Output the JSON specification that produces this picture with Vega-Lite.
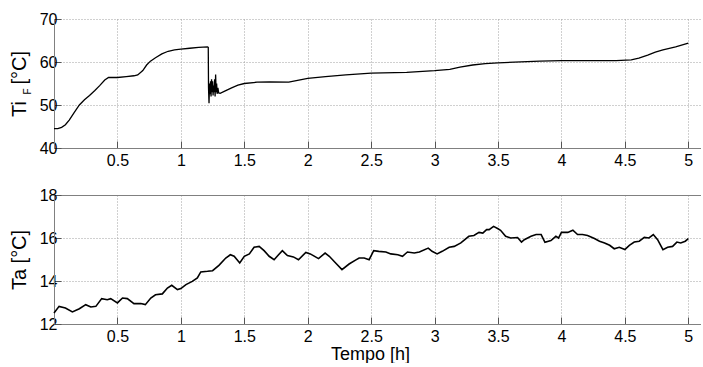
{
  "$schema": "https://vega.github.io/schema/vega-lite/v6.json",
  "padding": {"left": 9, "top": 11, "right": 0, "bottom": 0},
  "autosize": {"type": "pad"},
  "background": "white",
  "spacing": 19,
  "config": {
    "view": {"stroke": null},
    "axis": {
      "labelFont": "Liberation Sans",
      "labelFontSize": 16,
      "labelColor": "#000000",
      "titleFont": "Liberation Sans",
      "titleFontSize": 20,
      "titleFontWeight": "normal",
      "titleColor": "#000000",
      "domainColor": "#808080",
      "tickColor": "#555555",
      "tickSize": -7,
      "tickWidth": 1,
      "labelPadding": 4,
      "format": "~r",
      "gridColor": "#a0a0a0",
      "gridDash": [1, 2],
      "gridWidth": 1
    },
    "axisX": {"labelPadding": 11},
    "axisY": {"titlePadding": 10}
  },
  "datasets": {
    "tif": [
      {"t": 0.00, "v": 44.5}, {"t": 0.03, "v": 44.5}, {"t": 0.06, "v": 44.8},
      {"t": 0.09, "v": 45.4}, {"t": 0.12, "v": 46.5}, {"t": 0.16, "v": 48.3},
      {"t": 0.20, "v": 50.0}, {"t": 0.24, "v": 51.2}, {"t": 0.28, "v": 52.2},
      {"t": 0.32, "v": 53.3}, {"t": 0.36, "v": 54.5}, {"t": 0.40, "v": 55.8},
      {"t": 0.43, "v": 56.4}, {"t": 0.50, "v": 56.4}, {"t": 0.57, "v": 56.6},
      {"t": 0.63, "v": 56.8}, {"t": 0.66, "v": 57.0}, {"t": 0.70, "v": 58.0},
      {"t": 0.73, "v": 59.3}, {"t": 0.76, "v": 60.2}, {"t": 0.80, "v": 61.0},
      {"t": 0.85, "v": 61.9}, {"t": 0.90, "v": 62.5}, {"t": 0.95, "v": 62.8},
      {"t": 1.00, "v": 63.0}, {"t": 1.07, "v": 63.2}, {"t": 1.14, "v": 63.4},
      {"t": 1.21, "v": 63.5}, {"t": 1.216, "v": 63.4}, {"t": 1.218, "v": 54.0},
      {"t": 1.222, "v": 50.4}, {"t": 1.226, "v": 55.0}, {"t": 1.230, "v": 52.5},
      {"t": 1.234, "v": 55.5}, {"t": 1.238, "v": 52.0}, {"t": 1.242, "v": 56.0},
      {"t": 1.246, "v": 53.0}, {"t": 1.250, "v": 55.5}, {"t": 1.254, "v": 52.2},
      {"t": 1.258, "v": 54.5}, {"t": 1.262, "v": 53.0}, {"t": 1.266, "v": 56.0},
      {"t": 1.270, "v": 52.0}, {"t": 1.274, "v": 57.1}, {"t": 1.278, "v": 53.0},
      {"t": 1.282, "v": 55.0}, {"t": 1.286, "v": 52.6}, {"t": 1.292, "v": 54.0},
      {"t": 1.298, "v": 52.8}, {"t": 1.31, "v": 52.7}, {"t": 1.35, "v": 53.3},
      {"t": 1.40, "v": 54.0}, {"t": 1.45, "v": 54.6}, {"t": 1.50, "v": 55.0},
      {"t": 1.60, "v": 55.3}, {"t": 1.70, "v": 55.4}, {"t": 1.85, "v": 55.3},
      {"t": 1.93, "v": 55.8}, {"t": 2.00, "v": 56.2}, {"t": 2.14, "v": 56.6},
      {"t": 2.30, "v": 57.0}, {"t": 2.50, "v": 57.4}, {"t": 2.78, "v": 57.6},
      {"t": 3.00, "v": 58.0}, {"t": 3.12, "v": 58.3}, {"t": 3.20, "v": 58.8},
      {"t": 3.30, "v": 59.3}, {"t": 3.40, "v": 59.6}, {"t": 3.50, "v": 59.8},
      {"t": 3.83, "v": 60.2}, {"t": 4.00, "v": 60.3}, {"t": 4.43, "v": 60.3},
      {"t": 4.55, "v": 60.5}, {"t": 4.61, "v": 60.9}, {"t": 4.68, "v": 61.6},
      {"t": 4.74, "v": 62.3}, {"t": 4.80, "v": 62.8}, {"t": 4.90, "v": 63.5},
      {"t": 5.00, "v": 64.4}
    ],
    "ta": [
      {"t": 0.00, "v": 12.51}, {"t": 0.04, "v": 12.82}, {"t": 0.09, "v": 12.74},
      {"t": 0.145, "v": 12.56}, {"t": 0.20, "v": 12.71}, {"t": 0.25, "v": 12.90},
      {"t": 0.29, "v": 12.79}, {"t": 0.33, "v": 12.82}, {"t": 0.376, "v": 13.18},
      {"t": 0.42, "v": 13.13}, {"t": 0.447, "v": 13.18}, {"t": 0.50, "v": 12.98},
      {"t": 0.54, "v": 13.21}, {"t": 0.578, "v": 13.18}, {"t": 0.63, "v": 12.95},
      {"t": 0.684, "v": 12.95}, {"t": 0.72, "v": 12.90}, {"t": 0.763, "v": 13.21},
      {"t": 0.80, "v": 13.36}, {"t": 0.854, "v": 13.40}, {"t": 0.894, "v": 13.67},
      {"t": 0.928, "v": 13.80}, {"t": 0.973, "v": 13.60}, {"t": 1.00, "v": 13.65},
      {"t": 1.04, "v": 13.83}, {"t": 1.09, "v": 13.98}, {"t": 1.13, "v": 14.14},
      {"t": 1.157, "v": 14.42}, {"t": 1.21, "v": 14.45}, {"t": 1.25, "v": 14.48},
      {"t": 1.30, "v": 14.73}, {"t": 1.354, "v": 15.07}, {"t": 1.39, "v": 15.22},
      {"t": 1.42, "v": 15.15}, {"t": 1.464, "v": 14.84}, {"t": 1.50, "v": 15.15},
      {"t": 1.54, "v": 15.26}, {"t": 1.577, "v": 15.57}, {"t": 1.617, "v": 15.61},
      {"t": 1.656, "v": 15.41}, {"t": 1.696, "v": 15.15}, {"t": 1.735, "v": 14.99},
      {"t": 1.77, "v": 15.22}, {"t": 1.80, "v": 15.41}, {"t": 1.84, "v": 15.18},
      {"t": 1.887, "v": 15.12}, {"t": 1.927, "v": 14.99}, {"t": 1.985, "v": 15.33},
      {"t": 2.02, "v": 15.26}, {"t": 2.085, "v": 15.04}, {"t": 2.137, "v": 15.30},
      {"t": 2.17, "v": 15.15}, {"t": 2.22, "v": 14.84}, {"t": 2.27, "v": 14.53},
      {"t": 2.326, "v": 14.79}, {"t": 2.38, "v": 14.98}, {"t": 2.405, "v": 15.07},
      {"t": 2.445, "v": 15.07}, {"t": 2.484, "v": 14.99}, {"t": 2.52, "v": 15.41},
      {"t": 2.56, "v": 15.38}, {"t": 2.616, "v": 15.35}, {"t": 2.655, "v": 15.26},
      {"t": 2.71, "v": 15.22}, {"t": 2.747, "v": 15.15}, {"t": 2.786, "v": 15.35},
      {"t": 2.84, "v": 15.30}, {"t": 2.88, "v": 15.35}, {"t": 2.95, "v": 15.53},
      {"t": 2.98, "v": 15.38}, {"t": 3.02, "v": 15.26}, {"t": 3.06, "v": 15.38},
      {"t": 3.115, "v": 15.57}, {"t": 3.155, "v": 15.61}, {"t": 3.207, "v": 15.77},
      {"t": 3.27, "v": 16.08}, {"t": 3.31, "v": 16.12}, {"t": 3.35, "v": 16.26},
      {"t": 3.38, "v": 16.23}, {"t": 3.41, "v": 16.39}, {"t": 3.43, "v": 16.39},
      {"t": 3.465, "v": 16.54}, {"t": 3.50, "v": 16.43}, {"t": 3.52, "v": 16.36},
      {"t": 3.56, "v": 16.08}, {"t": 3.60, "v": 16.00}, {"t": 3.654, "v": 16.02},
      {"t": 3.685, "v": 15.81}, {"t": 3.707, "v": 15.92}, {"t": 3.76, "v": 16.08},
      {"t": 3.80, "v": 16.16}, {"t": 3.84, "v": 16.16}, {"t": 3.87, "v": 15.80},
      {"t": 3.917, "v": 15.88}, {"t": 3.956, "v": 16.08}, {"t": 3.977, "v": 16.00},
      {"t": 4.00, "v": 16.26}, {"t": 4.05, "v": 16.26}, {"t": 4.09, "v": 16.36},
      {"t": 4.127, "v": 16.16}, {"t": 4.166, "v": 16.16}, {"t": 4.206, "v": 16.12},
      {"t": 4.26, "v": 15.98}, {"t": 4.30, "v": 15.85}, {"t": 4.34, "v": 15.77},
      {"t": 4.38, "v": 15.66}, {"t": 4.416, "v": 15.50}, {"t": 4.456, "v": 15.57},
      {"t": 4.50, "v": 15.46}, {"t": 4.535, "v": 15.66}, {"t": 4.574, "v": 15.81},
      {"t": 4.613, "v": 15.85}, {"t": 4.653, "v": 16.03}, {"t": 4.69, "v": 16.00},
      {"t": 4.724, "v": 16.16}, {"t": 4.758, "v": 15.92}, {"t": 4.80, "v": 15.46},
      {"t": 4.837, "v": 15.57}, {"t": 4.876, "v": 15.61}, {"t": 4.91, "v": 15.81},
      {"t": 4.94, "v": 15.77}, {"t": 4.976, "v": 15.85}, {"t": 5.00, "v": 15.97}
    ]
  },
  "vconcat": [
    {
      "width": 647,
      "height": 129,
      "data": {"name": "tif"},
      "layer": [
        {
          "mark": {"type": "line", "color": "#000000", "strokeWidth": 1.3},
          "encoding": {
            "x": {
              "field": "t", "type": "quantitative",
              "scale": {"domain": [0, 5.1], "nice": false, "zero": false},
              "axis": {"values": [0.5, 1, 1.5, 2, 2.5, 3, 3.5, 4, 4.5, 5], "title": null}
            },
            "y": {
              "field": "v", "type": "quantitative",
              "scale": {"domain": [40, 70], "nice": false, "zero": false},
              "axis": {"values": [40, 50, 60, 70], "title": "Ti\u00a0\u00a0\u00a0[°C]"}
            }
          }
        },
        {
          "mark": {"type": "line", "opacity": 0},
          "encoding": {
            "x": {"field": "t", "type": "quantitative"},
            "y": {
              "field": "v", "type": "quantitative",
              "axis": {
                "orient": "left", "title": "F", "titleFontSize": 10,
                "titleX": -22, "titleY": 72,
                "labels": false, "ticks": false, "domain": false, "grid": false
              }
            }
          }
        }
      ],
      "resolve": {"axis": {"y": "independent"}}
    },
    {
      "width": 647,
      "height": 129,
      "data": {"name": "ta"},
      "mark": {"type": "line", "color": "#000000", "strokeWidth": 1.6},
      "encoding": {
        "x": {
          "field": "t", "type": "quantitative",
          "scale": {"domain": [0, 5.1], "nice": false, "zero": false},
          "axis": {
            "values": [0.5, 1, 1.5, 2, 2.5, 3, 3.5, 4, 4.5, 5],
            "title": "Tempo [h]", "titleFontSize": 18, "titlePadding": 1, "titleX": 316
          }
        },
        "y": {
          "field": "v", "type": "quantitative",
          "scale": {"domain": [12, 18], "nice": false, "zero": false},
          "axis": {
            "values": [12, 14, 16, 18],
            "title": "Ta [°C]",
            "gridDash": {"condition": {"test": "datum.value === 18", "value": []}, "value": [1, 2]},
            "gridColor": {"condition": {"test": "datum.value === 18", "value": "#808080"}, "value": "#a0a0a0"}
          }
        }
      }
    }
  ]
}
